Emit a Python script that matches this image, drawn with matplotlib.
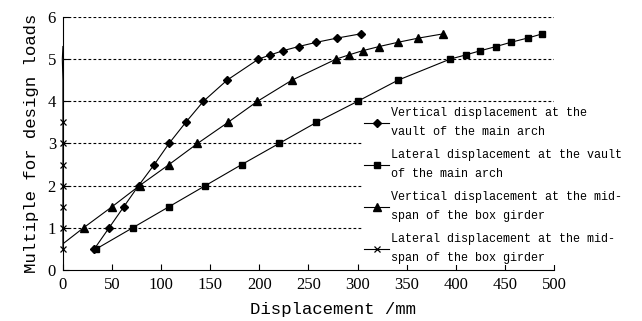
import matplotlib.pyplot as plt

# load multiples (y) and displacements in mm (x)
vert_arch_x = [32, 47, 62, 77, 93, 108, 125, 143, 167, 199, 211, 224, 240, 258, 279, 303]
vert_arch_y = [0.5, 1.0, 1.5, 2.0, 2.5, 3.0, 3.5, 4.0, 4.5, 5.0, 5.1, 5.2, 5.3, 5.4, 5.5, 5.6]

lat_arch_x = [34, 71, 108, 145, 182, 220, 258, 300, 341, 394, 410, 425, 441, 456, 473, 488]
lat_arch_y = [0.5, 1.0, 1.5, 2.0, 2.5, 3.0, 3.5, 4.0, 4.5, 5.0, 5.1, 5.2, 5.3, 5.4, 5.5, 5.6]

vert_girder_x = [0, 21, 50, 78, 108, 137, 168, 198, 233, 278, 291, 305, 322, 341, 362, 387]
vert_girder_y = [0.62, 1.0, 1.5, 2.0, 2.5, 3.0, 3.5, 4.0, 4.5, 5.0, 5.1, 5.2, 5.3, 5.4, 5.5, 5.6]

lat_girder_x = [0, 0, 0, 0, 0, 0, 0, 0, 0, -0.6, 0]
lat_girder_y = [0.5, 1.0, 1.5, 2.0, 2.5, 3.0, 3.5, 4.0, 4.5, 5.0, 5.3]

labels = ["Vertical displacement at the\nvault of the main arch",
          "Lateral displacement at the vault\nof the main arch",
          "Vertical displacement at the mid-\nspan of the box girder",
          "Lateral displacement at the mid-\nspan of the box girder"]

mono = "Liberation Mono"
serif = "Liberation Serif"

fig = plt.figure(figsize=(6.42, 3.21), dpi=100)
ax = fig.add_axes([0.098, 0.159, 0.765, 0.788])

for yv in [1, 2, 3, 4, 5, 6]:
    ax.plot([0, 500], [yv, yv], color='black', lw=0.8, ls=(0, (2.5, 2)), zorder=1)

ax.plot(vert_arch_x, vert_arch_y, color='black', lw=0.8, marker='D', ms=4, label=labels[0], zorder=3)
ax.plot(lat_arch_x, lat_arch_y, color='black', lw=0.8, marker='s', ms=5, label=labels[1], zorder=3)
ax.plot(vert_girder_x, vert_girder_y, color='black', lw=0.8, marker='^', ms=6,
        markevery=list(range(1, len(vert_girder_x))), label=labels[2], zorder=3)
ax.plot(lat_girder_x, lat_girder_y, color='black', lw=0.8, marker='x', ms=5, mew=0.9,
        markevery=list(range(7)), label=labels[3], zorder=3, clip_on=False)

ax.set_xlim(0, 500)
ax.set_ylim(0, 6)
ax.set_xticks(range(0, 501, 50))
ax.set_yticks(range(0, 7))
ax.spines['top'].set_visible(False)
ax.spines['right'].set_visible(False)
ax.tick_params(direction='in', length=4, width=0.8, labelsize=12, pad=5)
for t in ax.get_xticklabels() + ax.get_yticklabels():
    t.set_fontfamily(serif)

ax.set_xlabel("Displacement /mm", fontfamily=mono, fontsize=12.5)
ax.xaxis.set_label_coords(0.55, -0.125)
ax.set_ylabel("Multiple for design loads", fontfamily=mono, fontsize=12.5, labelpad=6)

leg = ax.legend(loc='upper left', bbox_to_anchor=(0.611, 0.648), frameon=True,
                prop={'family': mono, 'size': 8.5}, handlelength=2.1, handletextpad=0.2,
                labelspacing=0.95, borderaxespad=0, borderpad=0.1, fancybox=False)
leg.get_frame().set_facecolor('white')
leg.get_frame().set_edgecolor('none')
leg.get_frame().set_alpha(1)
for t in leg.get_texts():
    t.set_linespacing(1.75)
leg.set_zorder(5)

fig.savefig('out.png', dpi=100)
